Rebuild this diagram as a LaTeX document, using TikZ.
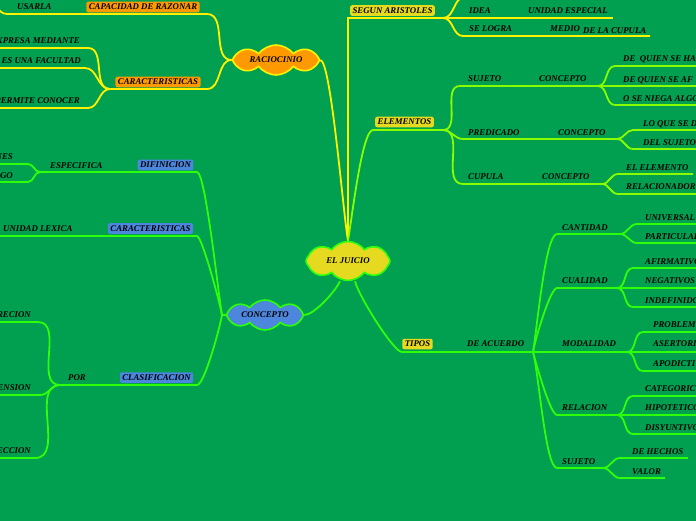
\documentclass[tikz,border=0pt]{standalone}
\usepackage{fontspec}
\setmainfont{Liberation Serif}
\usetikzlibrary{shapes.symbols,backgrounds}
\definecolor{fondo}{RGB}{0,160,80}
\definecolor{amarilloL}{RGB}{255,242,0}
\definecolor{lima}{RGB}{135,255,0}
\definecolor{verdeL}{RGB}{45,255,10}
\definecolor{naranja}{RGB}{255,153,0}
\definecolor{azul}{RGB}{77,134,221}
\definecolor{amarilloC}{RGB}{230,218,32}
\tikzset{
  txt/.style={font=\bfseries\itshape\fontsize{8.8}{9}\selectfont,inner sep=0pt,text=black},
  caja/.style={txt,rounded corners=2pt,inner xsep=2.5pt,inner ysep=2.3pt},
  nube/.style={cloud,cloud puffs=8,cloud puff arc=105,cloud ignores aspect,txt,line width=1.6pt},
  ramaA/.style={draw=amarilloL,line width=1.8pt},
  ramaL/.style={draw=lima,line width=1.8pt},
  ramaV/.style={draw=verdeL,line width=1.8pt},
  sD/.style={out=0,in=180},
  sI/.style={out=180,in=0},
  subeD/.style={out=80,in=180,out looseness=.5,in looseness=.25},
  bajaD/.style={out=-75,in=180,out looseness=.5,in looseness=.25},
  subeI/.style={out=100,in=0,out looseness=.4,in looseness=.15},
  bajaI/.style={out=-100,in=0,out looseness=.5,in looseness=.25},
}

\begin{document}
\begin{tikzpicture}[x=1pt,y=-1pt]
  \useasboundingbox (0,0) rectangle (696,520);
  % nubes
  \node[nube,fill=amarilloC,draw=verdeL,minimum width=84pt,minimum height=39pt] (juicio) at (348,261) {EL JUICIO};
  \node[nube,fill=naranja,draw=amarilloL,minimum width=87pt,minimum height=30pt] (racio) at (276,60) {RACIOCINIO};
  \node[nube,fill=azul,draw=verdeL,minimum width=77pt,minimum height=30pt] (concepto) at (265,315) {CONCEPTO};

  % raciocinio
  \node[caja,fill=naranja] (capac) at (143,7) {CAPACIDAD DE RAZONAR};
  \node[caja,fill=naranja] (caracR) at (158,82) {CARACTERISTICAS};
  \node[txt,anchor=base west] (usarla) at (17,9) {USARLA};
  \node[txt,anchor=base east] (expresa) at (80,43) {EXPRESA MEDIANTE};
  \node[txt,anchor=base east] (facultad) at (81,63) {ES UNA FACULTAD};
  \node[txt,anchor=base east] (permite) at (80,103) {PERMITE CONOCER};

  % segun aristoles
  \node[caja,fill=amarilloC] (segun) at (392.5,10.5) {SEGUN ARISTOLES};
  \node[txt,anchor=base west] (idea) at (469,13) {IDEA};
  \node[txt,anchor=base west] (unidad) at (528,13) {UNIDAD ESPECIAL};
  \node[txt,anchor=base west] (selogra) at (469,31) {SE LOGRA};
  \node[txt,anchor=base west] (medio) at (550,31) {MEDIO};
  \node[txt,anchor=base west] (cupula) at (583,33) {DE LA CUPULA};

  % elementos
  \node[caja,fill=amarilloC] (elem) at (404.5,122) {ELEMENTOS};
  \node[txt,anchor=base west] (sujeto) at (468,81) {SUJETO};
  \node[txt,anchor=base west] (concS) at (539,81) {CONCEPTO};
  \node[txt,anchor=base west] (quien1) at (623,61) {DE\ \ QUIEN SE HA};
  \node[txt,anchor=base west] (quien2) at (623,82) {DE QUIEN SE AF};
  \node[txt,anchor=base west] (niega) at (623,101) {O SE NIEGA ALGO};
  \node[txt,anchor=base west] (predic) at (468,135) {PREDICADO};
  \node[txt,anchor=base west] (concP) at (558,135) {CONCEPTO};
  \node[txt,anchor=base west] (loque) at (643,126) {LO QUE SE D};
  \node[txt,anchor=base west] (delsuj) at (643,145) {DEL SUJETO};
  \node[txt,anchor=base west] (cup) at (468,179) {CUPULA};
  \node[txt,anchor=base west] (concC) at (542,179) {CONCEPTO};
  \node[txt,anchor=base west] (elemento) at (626,170) {EL ELEMENTO};
  \node[txt,anchor=base west] (relacion) at (626,189) {RELACIONADOR};

  % tipos
  \node[caja,fill=amarilloC] (tipos) at (417.5,344) {TIPOS};
  \node[txt,anchor=base west] (acuerdo) at (467,346) {DE ACUERDO};
  \node[txt,anchor=base west] (cant) at (562,230) {CANTIDAD};
  \node[txt,anchor=base west] (univ) at (645,220) {UNIVERSAL};
  \node[txt,anchor=base west] (partic) at (645,239) {PARTICULAR};
  \node[txt,anchor=base west] (cual) at (562,283) {CUALIDAD};
  \node[txt,anchor=base west] (afirm) at (645,264) {AFIRMATIVO};
  \node[txt,anchor=base west] (negat) at (645,283) {NEGATIVOS};
  \node[txt,anchor=base west] (indef) at (645,303) {INDEFINIDO};
  \node[txt,anchor=base west] (modal) at (562,346) {MODALIDAD};
  \node[txt,anchor=base west] (probl) at (653,327) {PROBLEM};
  \node[txt,anchor=base west] (asert) at (653,346) {ASERTORI};
  \node[txt,anchor=base west] (apod) at (653,366) {APODICTI};
  \node[txt,anchor=base west] (relT) at (562,410) {RELACION};
  \node[txt,anchor=base west] (categ) at (645,391) {CATEGORIC};
  \node[txt,anchor=base west] (hipot) at (645,410) {HIPOTETICO};
  \node[txt,anchor=base west] (disyun) at (645,430) {DISYUNTIVO};
  \node[txt,anchor=base west] (sujT) at (562,464) {SUJETO};
  \node[txt,anchor=base west] (hechos) at (632,454) {DE HECHOS};
  \node[txt,anchor=base west] (valor) at (632,474) {VALOR};

  % concepto
  \node[caja,fill=azul] (difin) at (165.5,165) {DIFINICION};
  \node[txt,anchor=base west] (especif) at (50,168) {ESPECIFICA};
  \node[txt,anchor=base east] (nes) at (13,159) {NES};
  \node[txt,anchor=base east] (go) at (13,178) {GO};
  \node[caja,fill=azul] (caracC) at (150.5,228.5) {CARACTERISTICAS};
  \node[txt,anchor=base west] (lexica) at (3,231) {UNIDAD LEXICA};
  \node[caja,fill=azul] (clasif) at (156.5,377.5) {CLASIFICACION};
  \node[txt,anchor=base west] (por) at (68,380) {POR};
  \node[txt,anchor=base east] (recion) at (31,317) {RECION};
  \node[txt,anchor=base east] (ension) at (31,390) {ENSION};
  \node[txt,anchor=base east] (eccion) at (31,453) {ECCION};

  \begin{scope}[on background layer]
    \fill[fondo] (-5,-5) rectangle (701,525);
    % ramas amarillas
    \draw[ramaA] (juicio.north) to[subeI] (racio.east);
    \draw[ramaA] (racio.west) to[sI] (207,14) -- (7,14) coordinate (jUsar);
    \draw[ramaA] (jUsar) to[sI] (-15,-2);
    \draw[ramaA] (racio.west) to[sI] (207,89) -- (110,89) coordinate (jCarR);
    \draw[ramaA] (jCarR) to[sI] (88,48) -- (-5,48);
    \draw[ramaA] (jCarR) to[sI] (85,68) -- (-5,68);
    \draw[ramaA] (jCarR) to[sI] (88,108) -- (-5,108);
    \draw[ramaA] (juicio.north) |- (443,18) coordinate (jSegun);
    \draw[ramaA] (jSegun) to[sD] (465,-3);
    \draw[ramaA] (jSegun) -- (613,18);
    \draw[ramaA] (jSegun) to[sD] (463,36) -- (650,36);
    % ramas lima
    \draw[ramaL] (juicio.north) to[subeD] (373,130) -- (443,130) coordinate (jElem);
    \draw[ramaL] (jElem) to[sD] (460,86) -- (598,86) coordinate (jSuj);
    \draw[ramaL] (jSuj) to[sD] (615,66) -- (700,66);
    \draw[ramaL] (jSuj) -- (700,86);
    \draw[ramaL] (jSuj) to[sD] (615,105) -- (700,105);
    \draw[ramaL] (jElem) to[sD] (463,139) -- (617,139) coordinate (jPred);
    \draw[ramaL] (jPred) to[sD] (633,130) -- (700,130);
    \draw[ramaL] (jPred) to[sD] (633,149) -- (700,149);
    \draw[ramaL] (jElem) to[sD] (463,184) -- (602,184) coordinate (jCup);
    \draw[ramaL] (jCup) to[sD] (618,174) -- (693,174);
    \draw[ramaL] (jCup) to[sD] (618,194) -- (700,194);
    % ramas verdes
    \draw[ramaV] ([xshift=-8pt]juicio.south) to[out=-115,in=0,out looseness=.6,in looseness=.5] (concepto.east);
    \draw[ramaV] (concepto.west) -- (222,315) coordinate (jConc);
    \draw[ramaV] (jConc) to[subeI] (197,172) -- (40,172) coordinate (jEsp);
    \draw[ramaV] (jEsp) to[sI] (28,164) -- (-5,164);
    \draw[ramaV] (jEsp) to[sI] (28,182) -- (-5,182);
    \draw[ramaV] (jConc) to[subeI] (197,236) -- (-5,236);
    \draw[ramaV] (jConc) to[bajaI] (197,385) -- (60,385) coordinate (jPor);
    \draw[ramaV] (jPor) to[sI] (38,322) -- (-5,322);
    \draw[ramaV] (jPor) to[sI] (40,395) -- (-5,395);
    \draw[ramaV] (jPor) to[sI] (35,458) -- (-5,458);
    \draw[ramaV] ([xshift=7pt]juicio.south) to[bajaD] (402,352) -- (533,352) coordinate (jTipos);
    \draw[ramaV] (jTipos) to[subeD] (557,234) -- (620,234) coordinate (jCant);
    \draw[ramaV] (jTipos) to[subeD] (557,288) -- (617,288) coordinate (jCual);
    \draw[ramaV] (jTipos) -- (627,352) coordinate (jMod);
    \draw[ramaV] (jTipos) to[bajaD] (557,415) -- (617,415) coordinate (jRel);
    \draw[ramaV] (jTipos) to[bajaD] (557,468) -- (603,468) coordinate (jSujT);
    \draw[ramaV] (jCant) to[sD] (637,224) -- (700,224);
    \draw[ramaV] (jCant) to[sD] (637,243) -- (700,243);
    \draw[ramaV] (jCual) to[sD] (633,268) -- (700,268);
    \draw[ramaV] (jCual) -- (700,288);
    \draw[ramaV] (jCual) to[sD] (633,307) -- (700,307);
    \draw[ramaV] (jMod) to[sD] (643,332) -- (700,332);
    \draw[ramaV] (jMod) -- (700,352);
    \draw[ramaV] (jMod) to[sD] (643,371) -- (700,371);
    \draw[ramaV] (jRel) to[sD] (633,396) -- (700,396);
    \draw[ramaV] (jRel) -- (700,415);
    \draw[ramaV] (jRel) to[sD] (633,434) -- (700,434);
    \draw[ramaV] (jSujT) to[sD] (620,458) -- (688,458);
    \draw[ramaV] (jSujT) to[sD] (620,478) -- (665,478);
  \end{scope}
\end{tikzpicture}
\end{document}
